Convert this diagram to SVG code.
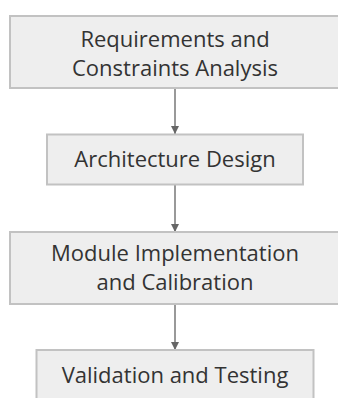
<svg xmlns="http://www.w3.org/2000/svg" width="338" height="398" viewBox="0 0 338 398">
  <style>
    .box { fill: #eeeeee; stroke: #c2c2c2; stroke-width: 2; }
    .label { font-family: "Open Sans", "Noto Sans", sans-serif; font-size: 22px; fill: #333333; text-anchor: middle; }
    .edge { stroke: #777777; stroke-width: 1.5; fill: none; }
  </style>
  <defs>
    <marker id="arrow" viewBox="0 0 10 10" refX="10" refY="5" markerWidth="8" markerHeight="9" markerUnits="userSpaceOnUse" orient="auto">
      <path d="M0,0 L10,5 L0,10 z" fill="#666666"/>
    </marker>
  </defs>

  <g id="connectors">
    <line class="edge" x1="175" y1="88" x2="175" y2="134" marker-end="url(#arrow)"/>
    <line class="edge" x1="175" y1="185" x2="175" y2="232" marker-end="url(#arrow)"/>
    <line class="edge" x1="175" y1="304" x2="175" y2="350" marker-end="url(#arrow)"/>
  </g>

  <g id="requirements">
    <rect class="box" x="10" y="16" width="330" height="72"/>
    <text class="label" x="175" y="47">Requirements and</text>
    <text class="label" x="175" y="76">Constraints Analysis</text>
  </g>

  <g id="architecture">
    <rect class="box" x="47" y="134.5" width="256" height="50"/>
    <text class="label" x="175" y="167">Architecture Design</text>
  </g>

  <g id="implementation">
    <rect class="box" x="10" y="232" width="330" height="72"/>
    <text class="label" x="175" y="261">Module Implementation</text>
    <text class="label" x="175" y="290">and Calibration</text>
  </g>

  <g id="validation">
    <rect class="box" x="36.5" y="350" width="277" height="60"/>
    <text class="label" x="175" y="383">Validation and Testing</text>
  </g>
</svg>
